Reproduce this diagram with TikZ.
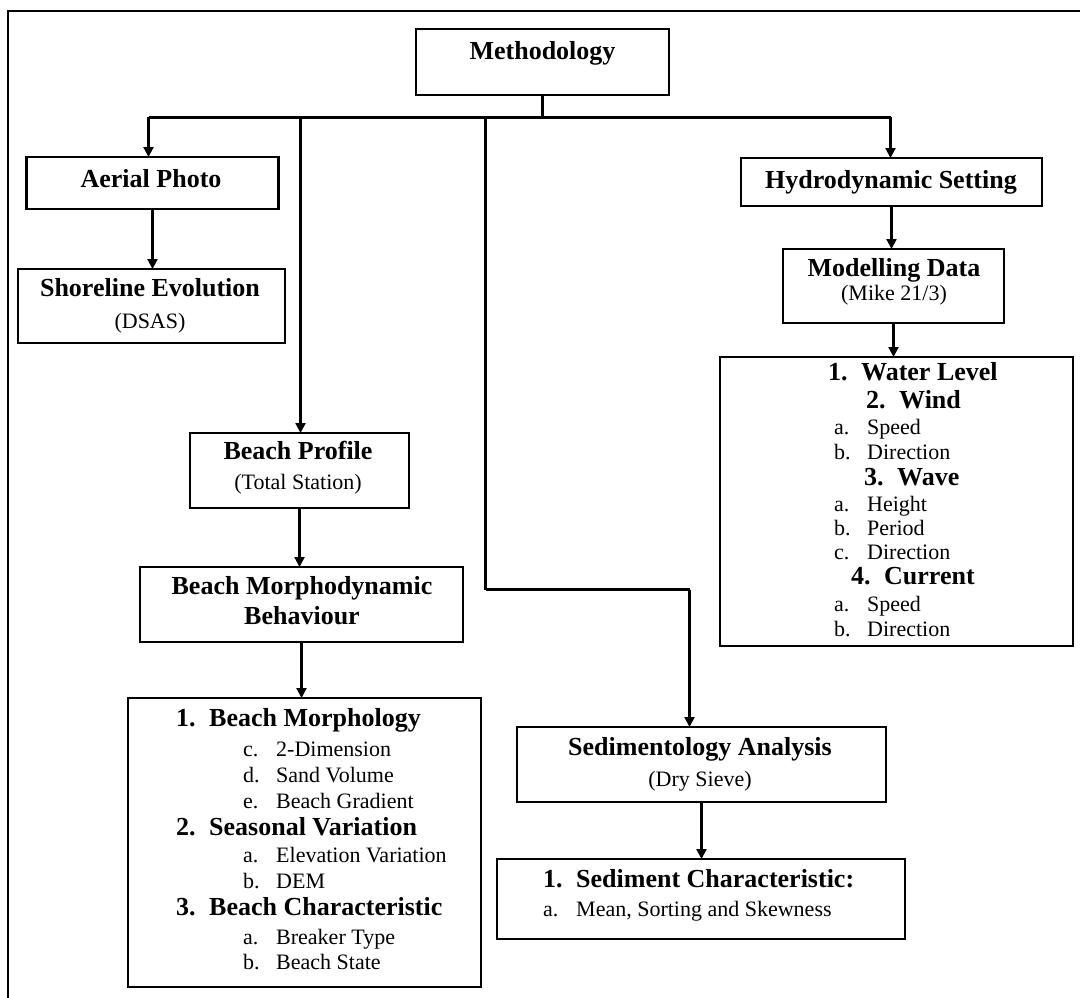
\documentclass[tikz,border=0pt]{standalone}
\usepackage{fontspec}
\setmainfont{Liberation Serif}
\usetikzlibrary{arrows.meta}
\newcommand{\headfont}{\fontsize{26}{30}\selectfont\bfseries}
\newcommand{\subfont}{\fontsize{22}{26}\selectfont}
\newcommand{\numitem}[2]{\makebox[33pt][l]{#1.}#2}
\begin{document}
\begin{tikzpicture}[x=1pt,y=-1pt,
	box/.style={draw, line width=2.4pt, inner sep=0pt, outer sep=0pt},
	head/.style={font=\headfont, inner sep=0pt, anchor=mid, yshift=-4pt},
	sub/.style={font=\subfont, inner sep=0pt, anchor=mid, yshift=-4pt},
	hitem/.style={font=\headfont, inner sep=0pt, anchor=mid west, yshift=-4pt},
	sitem/.style={font=\subfont, inner sep=0pt, anchor=mid west, yshift=-4pt},
	conn/.style={draw, line width=2.2pt},
	arr/.style={conn, -{Triangle[length=10pt,width=10pt]}}]
	\useasboundingbox (0,0) rectangle (1080,998);
	% frame
	\draw[line width=2.8pt] (1080,11) -- (8,11) -- (8,998);
	% top
	\node[box, minimum width=253, minimum height=66] at (542.5,62) (meth) {};
	\node[head] at (542.5,53) (methtxt) {Methodology};
	% left column
	\node[box, minimum width=252, minimum height=52] at (152.5,183) (aerial) {};
	\node[head] at (151,181) (aerialtxt) {Aerial Photo};
	\node[box, minimum width=267, minimum height=74] at (151.5,306) (shore) {};
	\node[head] at (150,290) (shoretxt) {Shoreline Evolution};
	\node[sub] at (150,322) (dsas) {(DSAS)};
	\node[box, minimum width=219, minimum height=75] at (299.5,470.5) (profile) {};
	\node[head] at (298,453) (profiletxt) {Beach Profile};
	\node[sub] at (298,483) (station) {(Total Station)};
	\node[box, minimum width=323, minimum height=75] at (301.5,604.5) (bmb) {};
	\node[head] at (302,588) (bmbtxt) {Beach Morphodynamic};
	\node[head] at (302,618) (behav) {Behaviour};
	\node[box, minimum width=353, minimum height=289] at (304.5,842.5) (bmblist) {};
	\node[hitem] at (176,720) (morph) {\numitem{1}{Beach Morphology}};
	\node[sitem] at (243,750) (dim) {\numitem{c}{2-Dimension}};
	\node[sitem] at (243,776) (vol) {\numitem{d}{Sand Volume}};
	\node[sitem] at (243,802) (grad) {\numitem{e}{Beach Gradient}};
	\node[hitem] at (176,829) (season) {\numitem{2}{Seasonal Variation}};
	\node[sitem] at (243,856) (elev) {\numitem{a}{Elevation Variation}};
	\node[sitem] at (243,882) (dem) {\numitem{b}{DEM}};
	\node[hitem] at (176,909) (charac) {\numitem{3}{Beach Characteristic}};
	\node[sitem] at (243,938) (breaker) {\numitem{a}{Breaker Type}};
	\node[sitem] at (243,963) (state) {\numitem{b}{Beach State}};
	% middle column
	\node[box, minimum width=369, minimum height=75] at (701.5,764.5) (sed) {};
	\node[head] at (700,749) (sedtxt) {Sedimentology Analysis};
	\node[sub] at (700,780) (sieve) {(Dry Sieve)};
	\node[box, minimum width=408, minimum height=80] at (701,899) (sedlist) {};
	\node[hitem] at (543,881) (sedchar) {\numitem{1}{Sediment Characteristic:}};
	\node[sitem] at (543,910) (mean) {\numitem{a}{Mean, Sorting and Skewness}};
	% right column
	\node[box, minimum width=301, minimum height=48] at (891.5,182) (hydro) {};
	\node[head] at (891,182) (hydrotxt) {Hydrodynamic Setting};
	\node[box, minimum width=221, minimum height=74] at (893.5,286) (model) {};
	\node[head] at (894,270) (modeltxt) {Modelling Data};
	\node[sub] at (894,294) (mike) {(Mike 21/3)};
	\node[box, minimum width=353, minimum height=289] at (896.5,501.5) (hydlist) {};
	\node[hitem] at (828,374) (level) {\numitem{1}{Water Level}};
	\node[hitem] at (866,402) (wind) {\numitem{2}{Wind}};
	\node[sitem] at (834,428) (wspeed) {\numitem{a}{Speed}};
	\node[sitem] at (834,453) (wdir) {\numitem{b}{Direction}};
	\node[hitem] at (864,479) (wave) {\numitem{3}{Wave}};
	\node[sitem] at (834,505) (height) {\numitem{a}{Height}};
	\node[sitem] at (834,529) (period) {\numitem{b}{Period}};
	\node[sitem] at (834,553) (vdir) {\numitem{c}{Direction}};
	\node[hitem] at (851,578) (current) {\numitem{4}{Current}};
	\node[sitem] at (834,605) (cspeed) {\numitem{a}{Speed}};
	\node[sitem] at (834,630) (cdir) {\numitem{b}{Direction}};
	% connectors
	\coordinate (busA) at (148.5,117.5);
	\coordinate (busP) at (300.5,117.5);
	\coordinate (busS) at (485.5,117.5);
	\coordinate (busH) at (890.5,117.5);
	\coordinate (bendS) at (485.5,589.5);
	\coordinate (dropS) at (689.5,589.5);
	\path (meth.south) edge[conn] (meth.south |- busA)
	(busA) edge[conn] (busH)
	(busA) edge[arr] (busA |- aerial.north)
	(aerial.south) edge[arr] (aerial.south |- shore.north)
	(busP) edge[arr] (busP |- profile.north)
	(profile.south) edge[arr] (profile.south |- bmb.north)
	(bmb.south) edge[arr] (bmb.south |- bmblist.north)
	(busS) edge[conn] (bendS)
	(bendS) edge[conn] (dropS)
	(dropS) edge[arr] (dropS |- sed.north)
	(sed.south) edge[arr] (sed.south |- sedlist.north)
	(busH) edge[arr] (busH |- hydro.north)
	(hydro.south) edge[arr] (hydro.south |- model.north)
	(model.south) edge[arr] (model.south |- hydlist.north);
\end{tikzpicture}
\end{document}
